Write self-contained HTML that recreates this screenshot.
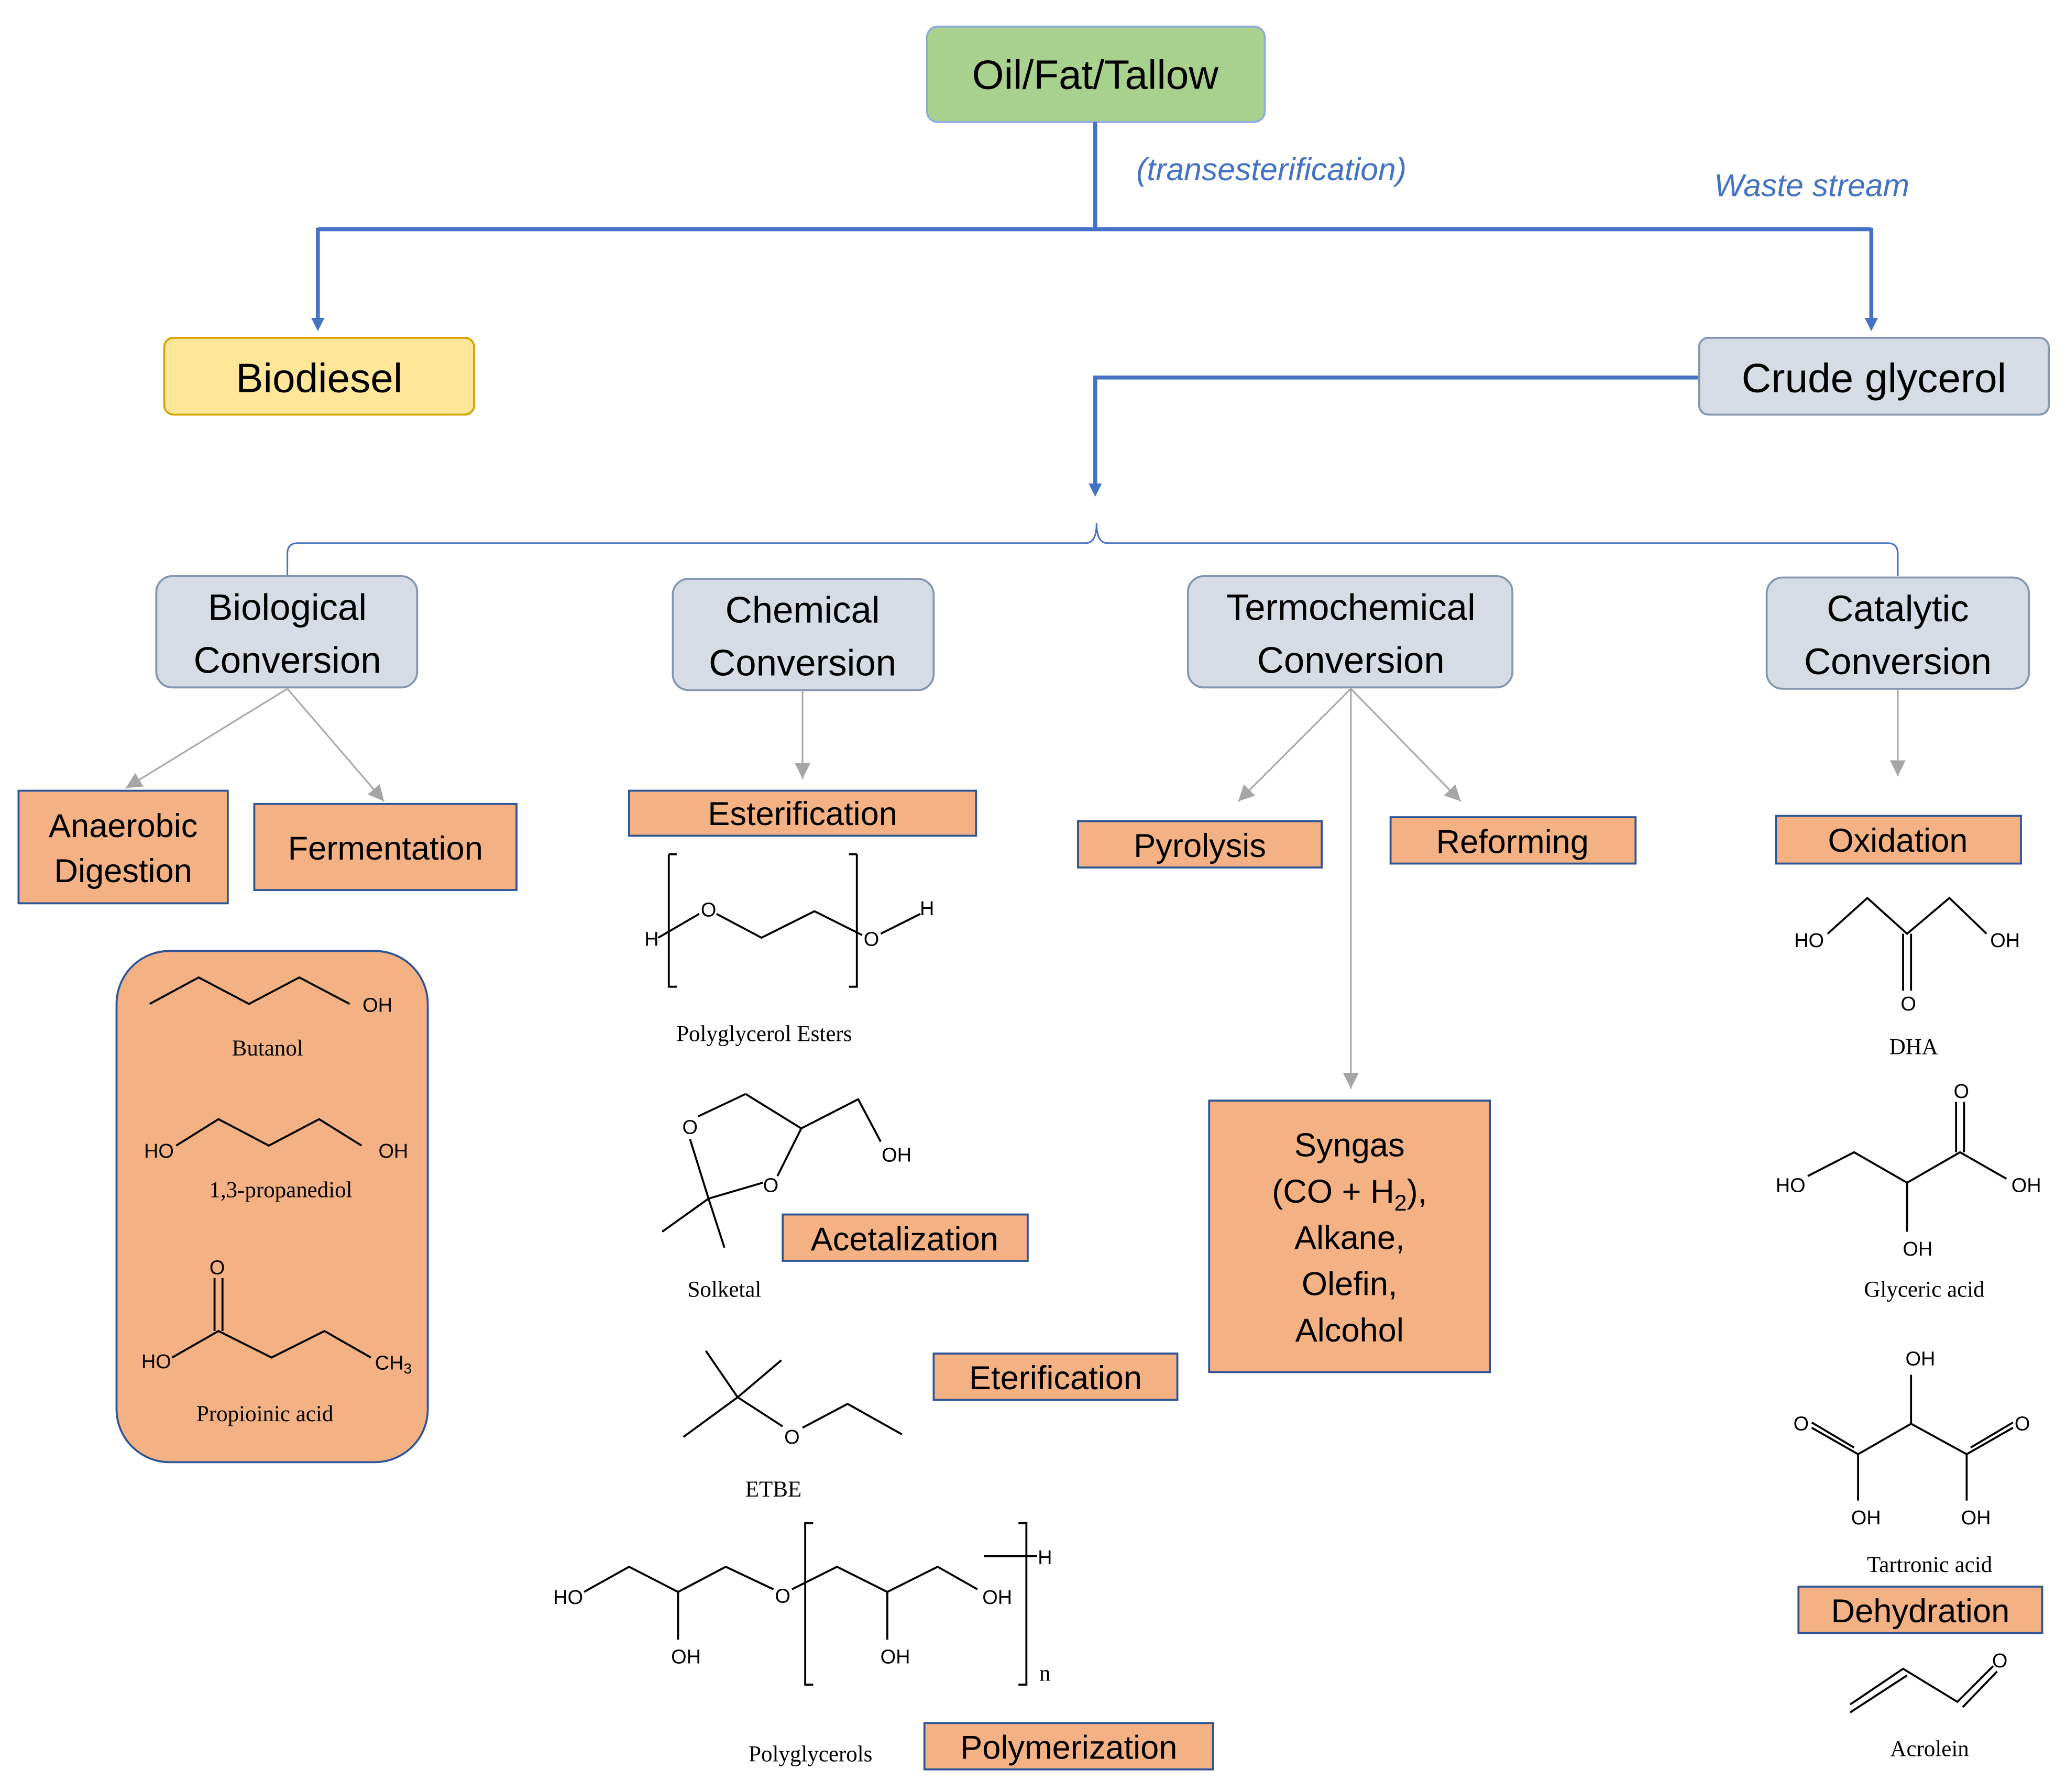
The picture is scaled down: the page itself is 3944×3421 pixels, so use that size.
<!DOCTYPE html>
<html><head><meta charset="utf-8"><style>html,body{margin:0;padding:0;background:#fff}svg{display:block}</style></head>
<body>
<svg xmlns="http://www.w3.org/2000/svg" width="3944" height="3421" viewBox="0 0 1560 1353">
<defs>
<marker id="ab" markerWidth="10" markerHeight="10" refX="5" refY="5" orient="auto" markerUnits="userSpaceOnUse" viewBox="0 0 10 10"><path d="M0,0 L10,5 L0,10 z" fill="#4472c4"/></marker>
<marker id="ag" markerWidth="12" markerHeight="12" refX="10" refY="5" orient="auto" markerUnits="userSpaceOnUse" viewBox="0 0 10 10"><path d="M0,0 L10,5 L0,10 z" fill="#a6a6a6"/></marker>
</defs>
<rect width="1560" height="1353" fill="#fff"/>
<g font-family="Liberation Sans, sans-serif" text-anchor="middle">
<!-- top -->
<rect x="700" y="20" width="255" height="72" rx="8" fill="#a9d18e" stroke="#8faadc" stroke-width="1.5"/>
<text x="827" y="67" font-size="31">Oil/Fat/Tallow</text>
<g stroke="#4472c4" stroke-width="3" fill="none">
<path d="M827,92 V173 M240,173 H1413"/>
<path d="M240,172 V245" marker-end="url(#ab)"/>
<path d="M1413,172 V245" marker-end="url(#ab)"/>
<path d="M1283,285 H827 V370" marker-end="url(#ab)"/>
</g>
<text x="960" y="136" font-size="24" font-style="italic" fill="#4472c4">(transesterification)</text>
<text x="1368" y="148" font-size="24" font-style="italic" fill="#4472c4">Waste stream</text>
<rect x="124" y="255" width="234" height="58" rx="7" fill="#ffe699" stroke="#d6a400" stroke-width="1.5"/>
<text x="241" y="296" font-size="31">Biodiesel</text>
<rect x="1283" y="255" width="264" height="58" rx="7" fill="#d6dce5" stroke="#8497b0" stroke-width="1.5"/>
<text x="1415" y="296" font-size="31">Crude glycerol</text>
<!-- brace -->
<path d="M217,435 V418 Q217,410 225,410 H820 Q828,410 828,395 Q828,410 836,410 H1425 Q1433,410 1433,418 V435" fill="none" stroke="#4472c4" stroke-width="1.2"/>
<!-- conversion boxes -->
<g fill="#d6dce5" stroke="#8497b0" stroke-width="1.5">
<rect x="118" y="435" width="197" height="84" rx="12"/>
<rect x="508" y="437" width="197" height="84" rx="12"/>
<rect x="897" y="435" width="245" height="84" rx="12"/>
<rect x="1334" y="436" width="198" height="84" rx="12"/>
</g>
<g font-size="28">
<text x="217" y="468">Biological</text><text x="217" y="508">Conversion</text>
<text x="606" y="470">Chemical</text><text x="606" y="510">Conversion</text>
<text x="1020" y="468">Termochemical</text><text x="1020" y="508">Conversion</text>
<text x="1433" y="469">Catalytic</text><text x="1433" y="509">Conversion</text>
</g>
<g stroke="#a6a6a6" stroke-width="1.2" fill="none">
<path d="M217,520 L95,595" marker-end="url(#ag)"/>
<path d="M217,520 L290,605" marker-end="url(#ag)"/>
<path d="M606,521 V588" marker-end="url(#ag)"/>
<path d="M1020,520 L935,605" marker-end="url(#ag)"/>
<path d="M1020,520 L1103,605" marker-end="url(#ag)"/>
<path d="M1020,520 V822" marker-end="url(#ag)"/>
<path d="M1433,520 V586" marker-end="url(#ag)"/>
</g>
<!-- orange boxes -->
<g fill="#f4b183" stroke="#2f5597" stroke-width="1.5">
<rect x="14" y="597" width="158" height="85"/>
<rect x="192" y="607" width="198" height="65"/>
<rect x="475" y="597" width="262" height="34"/>
<rect x="814" y="620" width="184" height="35"/>
<rect x="1050" y="617" width="185" height="35"/>
<rect x="1341" y="616" width="185" height="36"/>
<rect x="913" y="831" width="212" height="205"/>
<rect x="591" y="917" width="185" height="35"/>
<rect x="705" y="1022" width="184" height="35"/>
<rect x="698" y="1301" width="218" height="35"/>
<rect x="1358" y="1198" width="184" height="35"/>
<rect x="88" y="718" width="235" height="386" rx="40"/>
</g>
<g font-size="25">
<text x="93" y="632">Anaerobic</text><text x="93" y="666">Digestion</text>
<text x="291" y="649">Fermentation</text>
<text x="606" y="623">Esterification</text>
<text x="906" y="647">Pyrolysis</text>
<text x="1142" y="644">Reforming</text>
<text x="1433" y="643">Oxidation</text>
<text x="683" y="944">Acetalization</text>
<text x="797" y="1049">Eterification</text>
<text x="807" y="1328">Polymerization</text>
<text x="1450" y="1225">Dehydration</text>
<text x="1019" y="873">Syngas</text>
<text x="1019" y="908">(CO + H<tspan font-size="17" dy="6">2</tspan><tspan dy="-6">),</tspan></text>
<text x="1019" y="943">Alkane,</text>
<text x="1019" y="978">Olefin,</text>
<text x="1019" y="1013">Alcohol</text>
</g>
<!-- structures -->
<g stroke="#000" stroke-width="1.5" fill="none">
<path d="M113,758 L150,738 L188,758 L226,738 L264,758"/>
<path d="M133,865 L165,845 L203,865 L241,845 L273,865"/>
<path d="M130,1025 L165,1005 L205,1025 L245,1005 L280,1025 M162,1005 V965 M168,1005 V965"/>
<path d="M505,645 H511 M505,645 V745 H511 M647,645 H641 M647,645 V745 H641"/>
<path d="M497,708 L528,690 M541,690 L575,708 L615,688 L651,706 M665,705 L695,690"/>
<path d="M563,826 L605,852 L587,888 M527,843 L563,826 M521,860 L535,905 L576,893 M605,852 L648,830 L665,862 M535,905 L500,930 M535,905 L547,942"/>
<path d="M533,1020 L557,1055 L590,1027 M557,1055 L516,1085 M557,1055 L591,1077 M606,1078 L640,1060 L681,1083"/>
<path d="M441,1202 L475,1183 L512,1202 L548,1183 L584,1200 M598,1200 L632,1183 L670,1202 L708,1183 L738,1200 M512,1202 V1238 M670,1202 V1238"/>
<path d="M614,1150 H608 V1272 H614 M769,1150 H775 V1272 H769 M743,1175 H783"/>
<path d="M1380,705 L1410,678 L1440,705 L1472,678 L1500,705 M1437,705 V748 M1443,705 V748"/>
<path d="M1365,888 L1400,870 L1440,893 L1480,870 L1515,890 M1477,870 V832 M1483,870 V832 M1440,893 V930"/>
<path d="M1443,1038 V1075 L1403,1098 M1443,1075 L1485,1098 M1403,1098 L1368,1078 M1400,1093 L1368,1074 M1403,1098 V1133 M1485,1098 L1520,1078 M1488,1093 L1520,1074 M1485,1098 V1133"/>
<path d="M1397,1293 L1440,1265 M1397,1287 L1437,1260 L1478,1285 L1505,1258 M1482,1289 L1508,1262"/>
</g>
<g font-size="15">
<text x="285" y="764">OH</text>
<text x="120" y="874">HO</text><text x="297" y="874">OH</text>
<text x="164" y="962">O</text><text x="118" y="1033">HO</text><text x="297" y="1034">CH<tspan font-size="11" dy="3">3</tspan></text>
<text x="492" y="714">H</text><text x="535" y="692">O</text><text x="658" y="714">O</text><text x="700" y="691">H</text>
<text x="521" y="856">O</text><text x="582" y="900">O</text><text x="677" y="877">OH</text>
<text x="598" y="1090">O</text>
<text x="429" y="1211">HO</text><text x="591" y="1210">O</text><text x="753" y="1211">OH</text><text x="518" y="1256">OH</text><text x="676" y="1256">OH</text><text x="789" y="1181">H</text>
<text x="1366" y="715">HO</text><text x="1514" y="715">OH</text><text x="1441" y="763">O</text>
<text x="1352" y="900">HO</text><text x="1530" y="900">OH</text><text x="1481" y="829">O</text><text x="1448" y="948">OH</text>
<text x="1450" y="1031">OH</text><text x="1360" y="1080">O</text><text x="1527" y="1080">O</text><text x="1409" y="1151">OH</text><text x="1492" y="1151">OH</text>
<text x="1510" y="1259">O</text>
</g>
<g font-family="Liberation Serif, serif" font-size="17">
<text x="202" y="797">Butanol</text>
<text x="212" y="904">1,3-propanediol</text>
<text x="200" y="1073">Propioinic acid</text>
<text x="577" y="786">Polyglycerol Esters</text>
<text x="547" y="979">Solketal</text>
<text x="584" y="1130">ETBE</text>
<text x="612" y="1330">Polyglycerols</text>
<text x="789" y="1269">n</text>
<text x="1445" y="796">DHA</text>
<text x="1453" y="979">Glyceric acid</text>
<text x="1457" y="1187">Tartronic acid</text>
<text x="1457" y="1326">Acrolein</text>
</g>
</g>
</svg>
</body></html>
